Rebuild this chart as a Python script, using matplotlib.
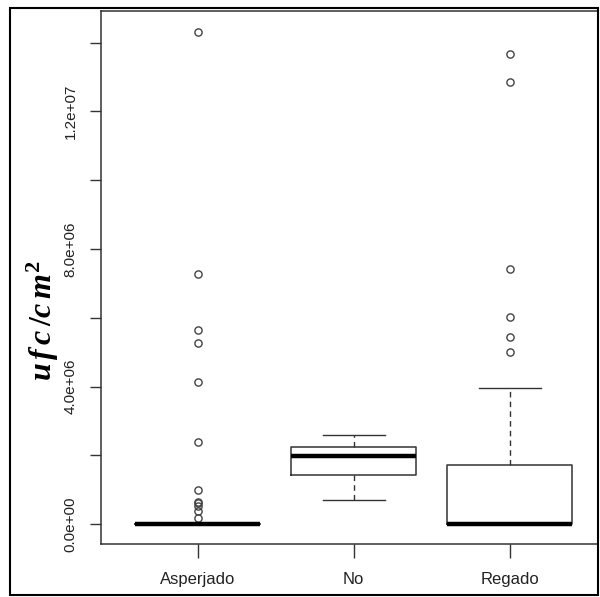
import matplotlib
matplotlib.use("Agg")
import matplotlib.pyplot as plt
from matplotlib.patches import Rectangle

# Group summary stats (R-style boxplot)
groups = ["Asperjado", "No", "Regado"]
whislo = [0.0, 0.70e6, 0.0]
q1 = [0.0, 1.43e6, 0.0]
med = [0.0, 1.98e6, 0.0]
q3 = [0.0, 2.25e6, 1.73e6]
whishi = [0.0, 2.59e6, 3.96e6]
fliers = [
    [14.31e6, 7.27e6, 5.64e6, 5.27e6, 4.13e6, 2.39e6, 0.99e6, 0.65e6, 0.60e6, 0.52e6, 0.39e6, 0.17e6],
    [],
    [13.67e6, 12.86e6, 7.42e6, 6.02e6, 5.44e6, 5.00e6],
]

yticks = [0, 2e6, 4e6, 6e6, 8e6, 10e6, 12e6, 14e6]
ylabels = ["0.0e+00", "", "4.0e+06", "", "8.0e+06", "", "1.2e+07", ""]

plt.rcParams["font.family"] = ["Liberation Sans", "DejaVu Sans"]
plt.rcParams["mathtext.fontset"] = "custom"
plt.rcParams["mathtext.it"] = "Liberation Serif:bold:italic"
plt.rcParams["mathtext.rm"] = "Liberation Serif:bold"
plt.rcParams["mathtext.bf"] = "Liberation Serif:bold"

fig = plt.figure(figsize=(6.0, 5.97), dpi=100)
ax = fig.add_axes([101 / 600, 53 / 597, 497 / 600, 533 / 597])

stats = []
for i, g in enumerate(groups):
    stats.append(dict(label=g, whislo=whislo[i], q1=q1[i], med=med[i],
                      q3=q3[i], whishi=whishi[i], fliers=fliers[i]))

ax.bxp(stats, positions=[1, 2, 3], widths=0.8, showfliers=True,
       boxprops=dict(color="#333", linewidth=1.1),
       medianprops=dict(color="black", linewidth=3.2, solid_capstyle="butt"),
       whiskerprops=dict(color="#333", linewidth=1.0, linestyle=(0, (4, 3))),
       capprops=dict(color="#333", linewidth=1.0),
       capwidths=0.4,
       flierprops=dict(marker="o", markersize=5.2, markerfacecolor="none",
                       markeredgecolor="#444", markeredgewidth=1.0))

ax.set_xlim(0.38, 3.566)
ax.set_ylim(-0.58e6, 14.92e6)
ax.set_yticks(yticks)
ax.set_yticklabels(ylabels, rotation=90, va="center", fontsize=11, color="#222")
ax.set_xticks([1, 2, 3])
ax.set_xticklabels(groups, fontsize=12, color="#222")
ax.tick_params(axis="y", length=8, width=1, color="#333", pad=9)
ax.tick_params(axis="x", length=10, width=1, color="#333", pad=10)
for s in ax.spines.values():
    s.set_color("#333")
    s.set_linewidth(1.1)

fig.text(43 / 600, 1 - 321 / 597, r"$u\,f\,c\,/c\,m^2$",
         rotation=90, fontsize=23, ha="center", va="center")

fig.patches.append(Rectangle((10 / 600, 2 / 597), 588 / 600, 587 / 597,
                             transform=fig.transFigure, fill=False,
                             edgecolor="black", linewidth=1.5))

fig.savefig("out.png", dpi=100)
